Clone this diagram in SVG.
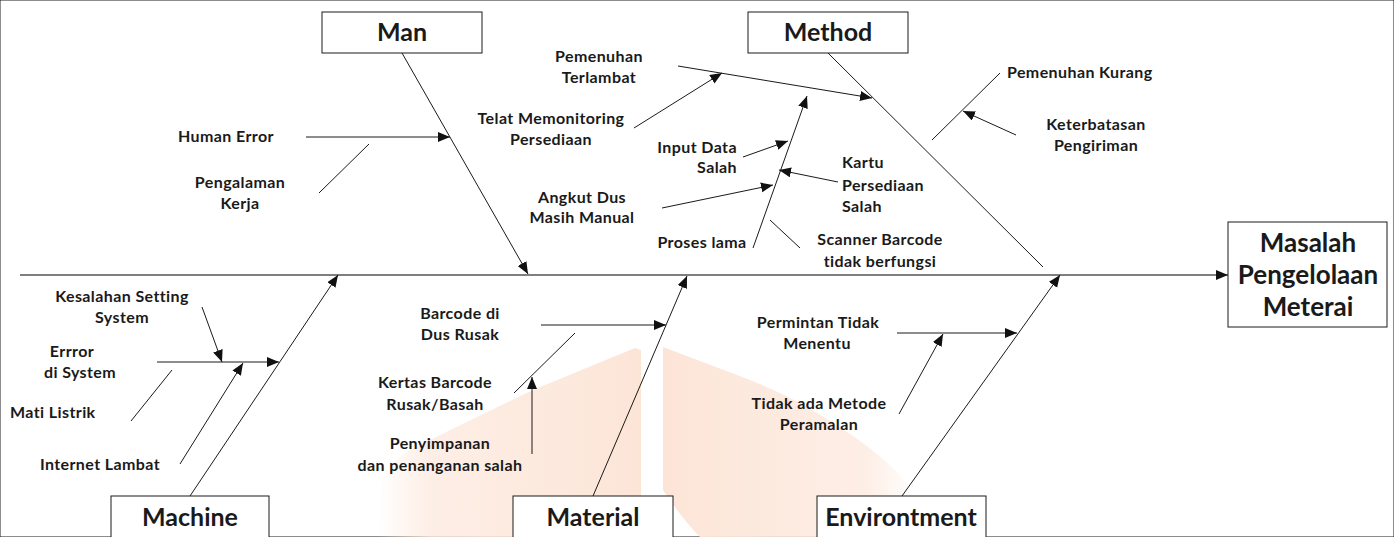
<svg xmlns="http://www.w3.org/2000/svg" width="1394" height="537" viewBox="0 0 1394 537">
<defs>
<marker id="ah" markerUnits="userSpaceOnUse" markerWidth="14" markerHeight="12" refX="12" refY="5" orient="auto">
<path d="M0,0 L12,5 L0,10 z" fill="#111"/>
</marker>
<linearGradient id="wl" x1="0" y1="0" x2="1" y2="0">
<stop offset="0" stop-color="#fdeadf" stop-opacity="0"/>
<stop offset="0.2" stop-color="#fdeadf" stop-opacity="0.8"/>
<stop offset="1" stop-color="#fce5d7"/>
</linearGradient>
<linearGradient id="wr" x1="0" y1="0" x2="1" y2="0">
<stop offset="0" stop-color="#fce5d7"/>
<stop offset="0.8" stop-color="#fdeadf" stop-opacity="0.8"/>
<stop offset="1" stop-color="#fdeadf" stop-opacity="0"/>
</linearGradient>
<style>
text{font-family:Lato,"Open Sans",sans-serif;font-weight:bold;fill:#1a1a1a}
.s{font-size:16px;letter-spacing:0.4px}
.c{font-size:25px}
.h{font-size:26px}
.m{text-anchor:middle}
.e{text-anchor:end}
line{stroke:#1a1a1a;stroke-width:1}
.a{marker-end:url(#ah)}
rect{fill:#fff;stroke:#1a1a1a;stroke-width:1}
</style>
</defs>
<rect width="1394" height="537" fill="#fff" stroke="none"/>
<g id="watermark">
<path d="M377,537 L380,490 Q384,465 410,450 Q470,420 533,390 L635,348 L641,350 L641,537 Z" fill="url(#wl)" stroke="none"/>
<path d="M663,347 L750,380 Q800,400 833,423 Q885,455 910,487 L917,537 L700,537 Q683,520 663,490 Z" fill="url(#wr)" stroke="none"/>
</g>
<g id="connectors">
<line x1="20" y1="275" x2="1228" y2="275" class="a" style="stroke:#555;stroke-width:1.6"/>
<line x1="402" y1="53" x2="528" y2="274" class="a"/>
<line x1="828" y1="53" x2="1043" y2="267"/>
<line x1="190" y1="496" x2="338" y2="275" class="a"/>
<line x1="593" y1="496" x2="687" y2="276" class="a"/>
<line x1="902" y1="496" x2="1060" y2="275" class="a"/>
<line x1="306" y1="137" x2="450" y2="137" class="a"/>
<line x1="319" y1="193" x2="369" y2="144"/>
<line x1="678" y1="66" x2="872" y2="98" class="a"/>
<line x1="634" y1="128" x2="722" y2="73" class="a"/>
<line x1="753" y1="248" x2="807" y2="96" class="a"/>
<line x1="743" y1="157" x2="788" y2="141" class="a"/>
<line x1="838" y1="182" x2="779" y2="170" class="a"/>
<line x1="662" y1="208" x2="773" y2="185" class="a"/>
<line x1="770" y1="220" x2="800" y2="248"/>
<line x1="932" y1="140" x2="1000" y2="73"/>
<line x1="1016" y1="135" x2="963" y2="111" class="a"/>
<line x1="157" y1="362" x2="279" y2="362" class="a"/>
<line x1="202" y1="307" x2="222" y2="362" class="a"/>
<line x1="180" y1="464" x2="243" y2="363" class="a"/>
<line x1="131" y1="421" x2="172" y2="370"/>
<line x1="541" y1="325" x2="666" y2="325" class="a"/>
<line x1="514" y1="393" x2="575" y2="333"/>
<line x1="532" y1="454" x2="532" y2="377" class="a"/>
<line x1="897" y1="333" x2="1017" y2="333" class="a"/>
<line x1="899" y1="414" x2="943" y2="334" class="a"/>
</g>
<g id="man"><rect x="322" y="12" width="160" height="41"/><text class="c m" x="402" y="41">Man</text></g>
<g id="method"><rect x="748" y="12" width="160" height="41"/><text class="c m" x="828" y="41">Method</text></g>
<g id="machine"><rect x="111" y="496" width="158" height="50"/><text class="c m" x="190" y="526">Machine</text></g>
<g id="material"><rect x="513" y="496" width="160" height="50"/><text class="c m" x="593" y="526">Material</text></g>
<g id="environment"><rect x="817" y="496" width="169" height="50"/><text class="c m" x="901" y="526">Environtment</text></g>
<g id="head"><rect x="1228" y="222" width="159" height="105"/>
<text class="h m" x="1308" y="252">Masalah</text>
<text class="h m" x="1308" y="284">Pengelolaan</text>
<text class="h m" x="1308" y="316">Meterai</text></g>
<g id="man-causes">
<text class="s m" x="226" y="142">Human Error</text>
<text class="s m" x="240" y="188">Pengalaman</text>
<text class="s m" x="240" y="209">Kerja</text>
</g>
<g id="method-causes">
<text class="s m" x="599" y="62">Pemenuhan</text>
<text class="s m" x="599" y="83">Terlambat</text>
<text class="s m" x="551" y="124">Telat Memonitoring</text>
<text class="s m" x="551" y="145">Persediaan</text>
<text class="s e" x="737" y="153">Input Data</text>
<text class="s e" x="737" y="173">Salah</text>
<text class="s" x="842" y="168">Kartu</text>
<text class="s" x="842" y="191">Persediaan</text>
<text class="s" x="842" y="212">Salah</text>
<text class="s m" x="582" y="203">Angkut Dus</text>
<text class="s m" x="582" y="223">Masih Manual</text>
<text class="s m" x="702" y="248">Proses lama</text>
<text class="s m" x="880" y="245">Scanner Barcode</text>
<text class="s m" x="880" y="267">tidak berfungsi</text>
<text class="s" x="1007" y="78">Pemenuhan Kurang</text>
<text class="s m" x="1096" y="130">Keterbatasan</text>
<text class="s m" x="1096" y="151">Pengiriman</text>
</g>
<g id="machine-causes">
<text class="s m" x="122" y="302">Kesalahan Setting</text>
<text class="s m" x="122" y="323">System</text>
<text class="s m" x="72" y="357">Errror</text>
<text class="s m" x="80" y="378">di System</text>
<text class="s" x="10" y="418">Mati Listrik</text>
<text class="s m" x="100" y="470">Internet Lambat</text>
</g>
<g id="material-causes">
<text class="s m" x="460" y="319">Barcode di</text>
<text class="s m" x="460" y="340">Dus Rusak</text>
<text class="s m" x="435" y="388">Kertas Barcode</text>
<text class="s m" x="435" y="410">Rusak/Basah</text>
<text class="s m" x="440" y="449">Penyimpanan</text>
<text class="s m" x="440" y="471">dan penanganan salah</text>
</g>
<g id="environment-causes">
<text class="s m" x="818" y="328">Permintan Tidak</text>
<text class="s m" x="817" y="349">Menentu</text>
<text class="s m" x="819" y="409">Tidak ada Metode</text>
<text class="s m" x="819" y="430">Peramalan</text>
</g>
</svg>
